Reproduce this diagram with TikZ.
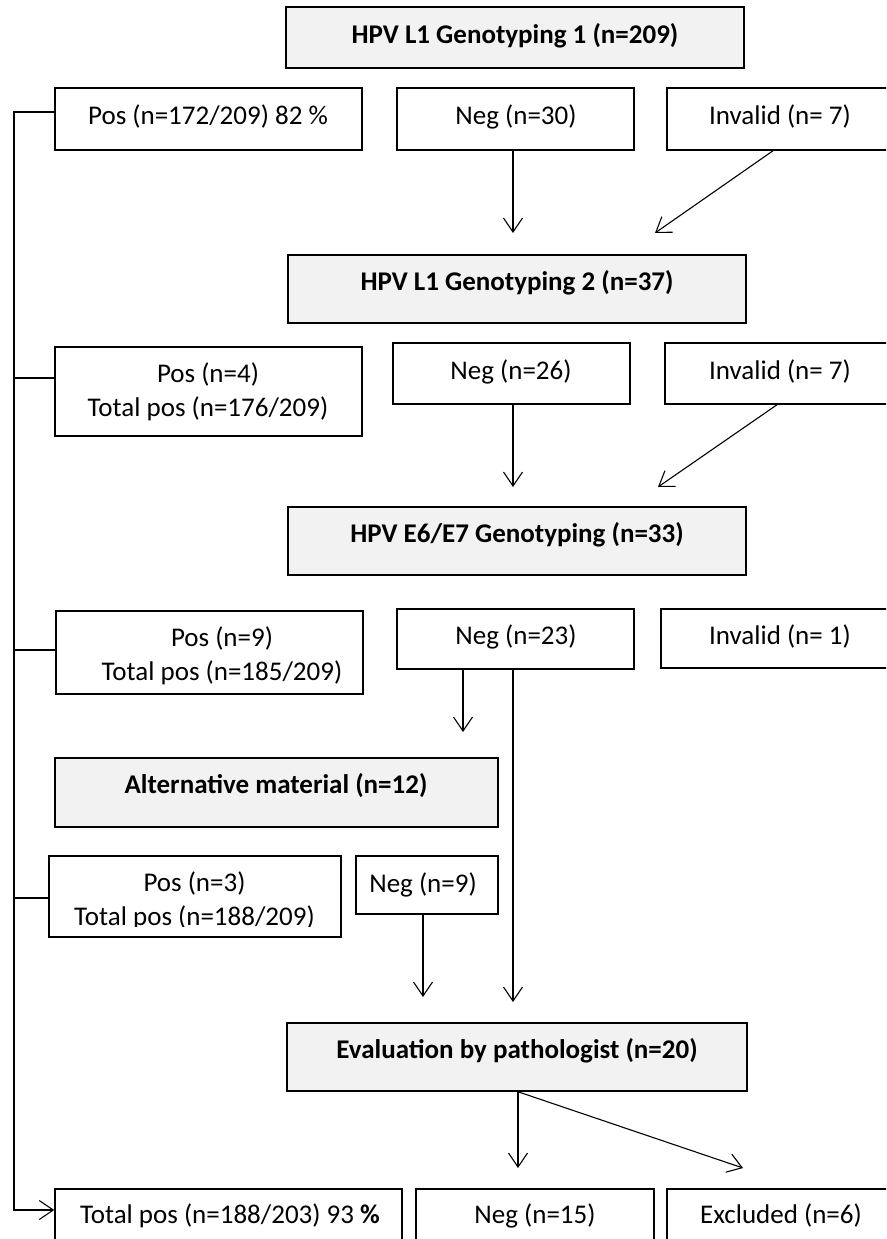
\documentclass[tikz,border=0pt]{standalone}
\usepackage{fontspec}
\setmainfont{Carlito}
\usetikzlibrary{arrows.meta}
\definecolor{boxgrey}{HTML}{F2F2F2}
\tikzset{
  box/.style={draw, line width=1.5pt, fill=white, inner sep=0pt},
  gbox/.style={box, fill=boxgrey},
  lbl/.style={font=\fontsize{27}{34}\selectfont, align=center, inner sep=0pt},
  slbl/.style={font=\fontsize{27}{34}\selectfont, inner sep=0pt, text height=20pt, text depth=6pt},
  blbl/.style={font=\fontsize{27}{34}\selectfont\bfseries, inner sep=0pt, text height=20pt, text depth=6pt},
  conn/.style={line width=1.1pt},
  arr/.style={conn, -{Straight Barb[length=14pt,width=19pt,line width=1.1pt]}}
}
\begin{document}
\begin{tikzpicture}[x=1pt,y=-1pt]
\useasboundingbox (0,0) rectangle (886,1239);
\fill[white] (0,0) rectangle (886,1239);
\clip (0,0) rectangle (886,1239);
% boxes
\node[gbox, minimum width=458pt, minimum height=61pt] (b1) at (515,37.5) {};
\node[box, minimum width=307pt, minimum height=62pt] (pos1) at (208.5,119) {};
\node[box, minimum width=237pt, minimum height=62pt] (neg1) at (515.5,119) {};
\node[box, minimum width=228pt, minimum height=62pt] (inv1) at (781,119) {};
\node[gbox, minimum width=458pt, minimum height=68pt] (b2) at (517,289) {};
\node[box, minimum width=307pt, minimum height=89pt] (pos2) at (208.5,391.5) {};
\node[box, minimum width=237pt, minimum height=61pt] (neg2) at (511.5,373.5) {};
\node[box, minimum width=230pt, minimum height=61pt] (inv2) at (780,373.5) {};
\node[gbox, minimum width=458pt, minimum height=68pt] (b3) at (517,541) {};
\node[box, minimum width=307pt, minimum height=83pt] (pos3) at (209.5,652.5) {};
\node[box, minimum width=237pt, minimum height=60pt] (neg3) at (515.5,639) {};
\node[box, minimum width=234pt, minimum height=59pt] (inv3) at (778,638.5) {};
\node[gbox, minimum width=443pt, minimum height=69pt] (alt) at (276.5,792.5) {};
\node[box, minimum width=292pt, minimum height=81pt] (pos4) at (195,896.5) {};
\node[box, minimum width=142pt, minimum height=58pt] (neg4) at (427,885) {};
\node[gbox, minimum width=460pt, minimum height=68pt] (eval) at (517,1057) {};
\node[box, minimum width=347pt, minimum height=81pt] (tot) at (228.5,1229.5) {};
\node[box, minimum width=238pt, minimum height=81pt] (neg5) at (535,1229.5) {};
\node[box, minimum width=228pt, minimum height=81pt] (exc) at (781,1229.5) {};
% texts
\node[blbl] (b1t) at (515,37) {HPV L1 Genotyping 1 (n=209)};
\node[slbl] (pos1t) at (208,117) {Pos (n=172/209) 82 \%};
\node[slbl] (neg1t) at (516,117) {Neg (n=30)};
\node[slbl] (inv1t) at (780,117) {Invalid (n= 7)};
\node[blbl] (b2t) at (517,283) {HPV L1 Genotyping 2 (n=37)};
\node[lbl] (pos2t) at (208,392) {Pos (n=4)\\Total pos (n=176/209)};
\node[slbl] (neg2t) at (511,372) {Neg (n=26)};
\node[slbl] (inv2t) at (780,372) {Invalid (n= 7)};
\node[blbl] (b3t) at (517,535) {HPV E6/E7 Genotyping (n=33)};
\node[lbl] (pos3t) at (222,655.5) {Pos (n=9)\\Total pos (n=185/209)};
\node[slbl] (neg3t) at (516,637) {Neg (n=23)};
\node[slbl] (inv3t) at (780,637) {Invalid (n= 1)};
\node[blbl] (altt) at (276,786) {Alternative material (n=12)};
\begin{scope}
\clip (0,0) rectangle (886,926);
\node[lbl] (pos4t) at (194.5,901) {Pos (n=3)\\Total pos (n=188/209)};
\end{scope}
\node[slbl] (neg4t) at (423,885.5) {Neg (n=9)};
\node[blbl] (evalt) at (517,1051) {Evaluation by pathologist (n=20)};
\node[slbl] (tott) at (230,1216) {Total pos (n=188/203) 93 \textbf{\%}};
\node[slbl] (neg5t) at (535,1216) {Neg (n=15)};
\node[slbl] (exct) at (781,1216) {Excluded (n=6)};
% free ends
\coordinate (c1) at (513,233);
\coordinate (c2) at (655,233);
\coordinate (c3) at (513,487);
\coordinate (c4) at (658,487);
\coordinate (c5) at (463,732);
\coordinate (c6) at (513,1002);
\coordinate (c7) at (423,997);
\coordinate (c8) at (518,1168);
\coordinate (c9) at (743,1168);
\coordinate (t0) at (14,112);
\coordinate (t1) at (14,1210);
\coordinate (s2) at (14,378);
\coordinate (s3) at (14,650);
\coordinate (s4) at (14,898);
% connectors
\draw[arr] (neg1.south -| c1) -- (c1);
\draw[arr] ([xshift=-8pt]inv1.south) -- (c2);
\draw[arr] (neg2.south -| c3) -- (c3);
\draw[arr] ([xshift=-3pt]inv2.south) -- (c4);
\draw[arr] (neg3.south -| c5) -- (c5);
\draw[arr] (neg3.south -| c6) -- (c6);
\draw[arr] (neg4.south -| c7) -- (c7);
\draw[arr] (eval.south -| c8) -- (c8);
\draw[arr] (eval.south -| c8) -- (c9);
\draw[arr] (pos1.west |- t0) -- (t0) -- (t1) -- (t1 -| tot.west);
\draw[conn] (pos2.west |- s2) -- (s2);
\draw[conn] (pos3.west |- s3) -- (s3);
\draw[conn] (pos4.west |- s4) -- (s4);
\end{tikzpicture}
\end{document}
